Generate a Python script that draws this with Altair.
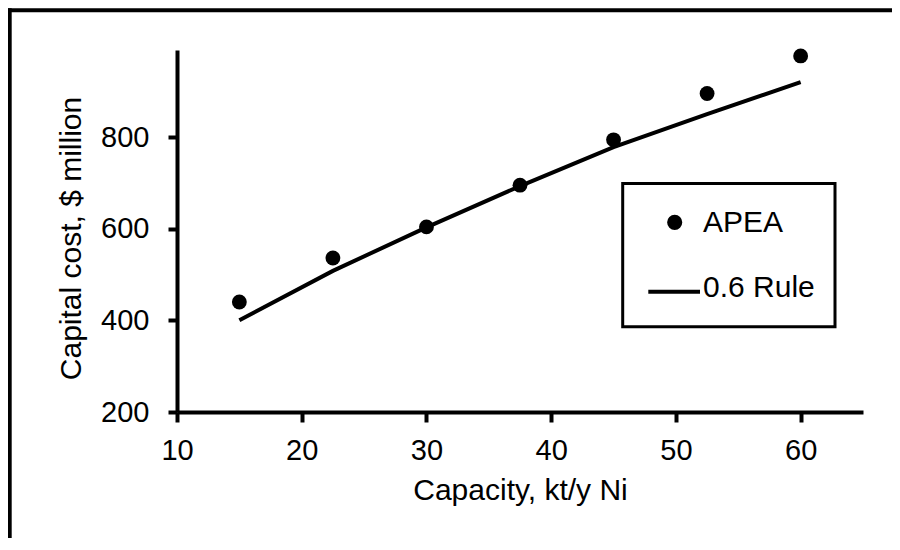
import altair as alt
import pandas as pd

# Data
capacity = [15, 22.5, 30, 37.5, 45, 52.5, 60]
apea_cost = [440, 536, 604, 695, 794, 895, 977]
rule_cost = [400, 508, 603, 693, 778, 850, 920]

x_ticks = [10, 20, 30, 40, 50, 60]
y_ticks = [200, 400, 600, 800]
legend_labels = ["APEA", "0.6 Rule"]

FONT = "Liberation Sans"

pts = pd.DataFrame({"cap": capacity, "cost": apea_cost})
line_df = pd.DataFrame({"cap": capacity, "cost": rule_cost})
one = pd.DataFrame({"a": [0]})

xscale = alt.Scale(domain=[10, 65], nice=False, zero=False)
yscale = alt.Scale(domain=[200, 990], nice=False, zero=False)

xaxis = alt.Axis(
    values=x_ticks, grid=False, domainColor="black", domainWidth=4,
    tickColor="black", tickWidth=4, tickSize=10, labelFlush=False,
    labelFont=FONT, labelFontSize=29, labelColor="black", labelPadding=14,
    title="Capacity, kt/y Ni", titleFont=FONT, titleFontSize=30,
    titleFontWeight="normal", titleColor="black",
    titleX=343, titleY=87, titleBaseline="alphabetic", titleAlign="center",
)
yaxis = alt.Axis(
    values=y_ticks, grid=False, domainColor="black", domainWidth=4,
    tickColor="black", tickWidth=4, tickSize=9, labelFlush=False,
    labelFont=FONT, labelFontSize=29, labelColor="black", labelPadding=19,
    title="Capital cost, $ million", titleFont=FONT, titleFontSize=30,
    titleFontWeight="normal", titleColor="black", titleAngle=270,
    titleX=-97, titleY=188, titleBaseline="alphabetic", titleAlign="center",
)

line = alt.Chart(line_df).mark_line(color="black", strokeWidth=4).encode(
    x=alt.X("cap:Q", scale=xscale, axis=xaxis),
    y=alt.Y("cost:Q", scale=yscale, axis=yaxis),
)
points = alt.Chart(pts).mark_point(filled=True, color="black", opacity=1, size=220).encode(
    x=alt.X("cap:Q", scale=xscale),
    y=alt.Y("cost:Q", scale=yscale),
)

# outer frame (left and top edges visible in the reference)
frame_left = alt.Chart(one).mark_rule(color="black", strokeWidth=4).encode(
    x=alt.value(-167.3), y=alt.value(-41.7), y2=alt.value(700))
frame_top = alt.Chart(one).mark_rule(color="black", strokeWidth=4).encode(
    x=alt.value(-169.3), x2=alt.value(800), y=alt.value(-39.7))

# legend
leg_box = alt.Chart(one).mark_rect(fill="white", stroke="black", strokeWidth=3).encode(
    x=alt.value(445.7), x2=alt.value(658), y=alt.value(133.5), y2=alt.value(276.7))
leg_dot = alt.Chart(one).mark_point(filled=True, color="black", opacity=1, size=230).encode(
    x=alt.value(497.7), y=alt.value(172.3))
leg_line = alt.Chart(one).mark_rule(color="black", strokeWidth=4).encode(
    x=alt.value(471.3), x2=alt.value(523), y=alt.value(241.7))
leg_t1 = alt.Chart(one).mark_text(
    text=legend_labels[0], font=FONT, fontSize=30, color="black",
    align="left", baseline="alphabetic").encode(x=alt.value(526), y=alt.value(181.7))
leg_t2 = alt.Chart(one).mark_text(
    text=legend_labels[1], font=FONT, fontSize=30, color="black",
    align="left", baseline="alphabetic").encode(x=alt.value(526), y=alt.value(247))

chart = alt.layer(
    line, points, frame_left, frame_top, leg_box, leg_dot, leg_line, leg_t1, leg_t2
).properties(
    width=686, height=362,
    padding={"left": 169, "top": 42, "right": 29, "bottom": 126},
    autosize=alt.AutoSizeParams(type="none"),
    background="white",
).configure_view(stroke=None)

chart.save("out.html", embed_options={"renderer": "svg", "actions": False})
